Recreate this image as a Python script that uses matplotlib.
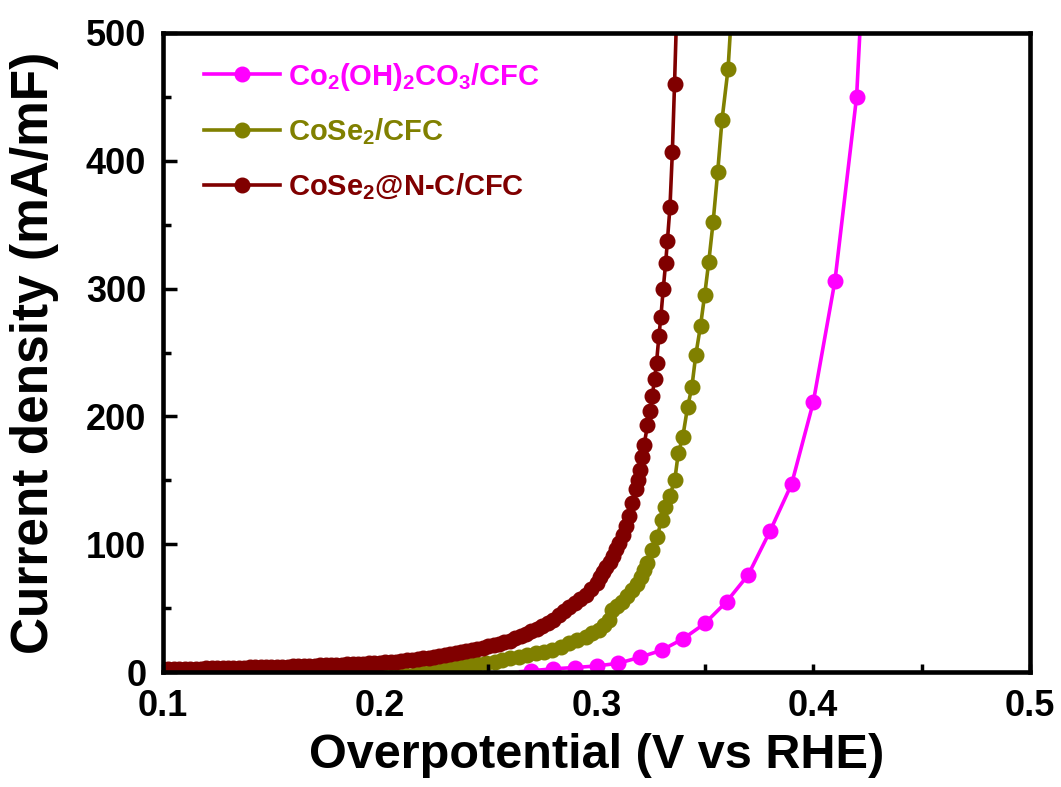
import matplotlib
matplotlib.use("Agg")
import matplotlib.pyplot as plt
from matplotlib.ticker import MultipleLocator

plt.rcParams['font.family'] = ['Liberation Sans', 'DejaVu Sans']
plt.rcParams['font.weight'] = 'bold'
plt.rcParams['mathtext.default'] = 'regular'

# Co2(OH)2CO3/CFC
v_pink = [0.265, 0.27, 0.28, 0.29, 0.30, 0.31, 0.32, 0.33, 0.34, 0.35,
          0.36, 0.37, 0.38, 0.39, 0.40, 0.41, 0.42, 0.4215]
j_pink = [0.3, 1.0, 2.5, 3.5, 4.7, 6.8, 11.5, 17, 26, 38,
          55, 76, 110, 147, 211, 306, 450, 500]

# CoSe2/CFC
v_olive = [0.100, 0.120, 0.140, 0.160, 0.180, 0.200, 0.210, 0.218, 0.224, 0.230,
           0.2336, 0.2375, 0.2413, 0.245, 0.249, 0.253, 0.2566, 0.260, 0.2643, 0.268,
           0.272, 0.276, 0.2797, 0.2835, 0.2873, 0.291, 0.295, 0.298, 0.3011, 0.3035,
           0.3058, 0.3073, 0.3095, 0.3119, 0.3142, 0.3165, 0.3185, 0.3203, 0.3220, 0.3235,
           0.3257, 0.328, 0.3300, 0.3315, 0.3338, 0.3361, 0.3377, 0.3398, 0.342, 0.344,
           0.3458, 0.348, 0.3499, 0.3518, 0.3538, 0.3559, 0.3579, 0.3607, 0.3617]
j_olive = [0.3, 0.4, 0.5, 0.6, 0.8, 1.0, 1.3, 1.6, 2.4, 3.2,
           3.7, 4.6, 5.5, 6.1, 6.8, 8.1, 9.4, 10.6, 12, 13.3,
           14.6, 15.9, 17.2, 19.8, 22.5, 25, 27.6, 30.2, 32.9, 36.8,
           40.7, 48.5, 51.5, 55, 59.5, 64, 69, 74.6, 80, 85,
           95.5, 106, 119, 129, 138, 150, 171, 184, 207, 223,
           248, 271, 295, 321, 352, 391, 432, 472, 500]

# CoSe2@N-C/CFC
v_red = [0.1000, 0.1025, 0.1050, 0.1075, 0.1100, 0.1125, 0.1150, 0.1175, 0.1200, 0.1225,
         0.1250, 0.1275, 0.1300, 0.1325, 0.1350, 0.1375, 0.1400, 0.1425, 0.1450, 0.1475,
         0.1500, 0.1525, 0.1550, 0.1575, 0.1600, 0.1625, 0.1650, 0.1675, 0.1700, 0.1725,
         0.1750, 0.1775, 0.1800, 0.1825, 0.1850, 0.1875, 0.1900, 0.1925, 0.1950, 0.1975,
         0.2000, 0.2025, 0.2050, 0.2075, 0.2100, 0.2125, 0.2150, 0.2175, 0.2200, 0.2225,
         0.2250, 0.2275, 0.2300, 0.2325, 0.2350, 0.2375, 0.2400, 0.2425, 0.2450, 0.2475,
         0.2500, 0.2525, 0.2550, 0.2575, 0.2600, 0.2625, 0.2650, 0.2675, 0.2700, 0.2725,
         0.2750, 0.2775, 0.2800, 0.2825, 0.2850, 0.2875, 0.2900, 0.2925, 0.2950, 0.2975,
         0.3000, 0.3015, 0.3030, 0.3045, 0.3060, 0.3075, 0.3090, 0.3105, 0.3120, 0.3135,
         0.3150, 0.3165, 0.3180, 0.3190, 0.3200, 0.3210, 0.3220, 0.3235, 0.3249, 0.3257,
         0.3268, 0.3277, 0.3288, 0.3297, 0.3308, 0.3319, 0.3327, 0.3339, 0.3350, 0.3360,
         0.3367]
j_red = [2.0, 2.1, 2.2, 2.3, 2.4, 2.5, 2.6, 2.7, 2.8, 2.9,
         3.0, 3.1, 3.2, 3.3, 3.4, 3.5, 3.6, 3.7, 3.8, 3.9,
         4.0, 4.1, 4.2, 4.3, 4.4, 4.55, 4.7, 4.85, 5.0, 5.15,
         5.3, 5.45, 5.6, 5.8, 6.0, 6.2, 6.4, 6.6, 6.8, 7.0,
         7.2, 7.5, 7.8, 8.1, 8.6, 9.1, 9.6, 10.1, 10.7, 11.3,
         12.0, 12.7, 13.3, 14.0, 14.8, 15.6, 16.5, 17.3, 18.1, 19.0,
         20.0, 21.0, 22.0, 23.2, 24.6, 26.3, 28.0, 29.8, 31.8, 33.9,
         36.0, 38.4, 41.0, 44.5, 48.0, 51.0, 54.0, 57.0, 60.5, 65.0,
         70.0, 74, 78, 82, 86, 91, 96, 101, 107, 114,
         122, 132, 143, 150, 158, 168, 178, 193, 204, 216,
         229, 242, 263, 278, 300, 320, 337, 364, 407, 460,
         500]

series = [
    (v_pink, j_pink, '#FF00FF', r'Co$_2$(OH)$_2$CO$_3$/CFC', 2),
    (v_olive, j_olive, '#808000', r'CoSe$_2$/CFC', 1),
    (v_red, j_red, '#800000', r'CoSe$_2$@N-C/CFC', 3),
]

fig = plt.figure(figsize=(10.61, 7.87), dpi=100)
ax = fig.add_axes([163 / 1061, 1 - 672 / 787, (1030 - 163) / 1061, (672 - 33) / 787])

for v, j, c, lab, z in series:
    n = len(v)
    first = 1 if c == '#FF00FF' else 0
    ax.plot(v, j, '-o', color=c, lw=2.6, ms=10.5, label=lab, zorder=z,
            markevery=list(range(first, n - 1)))

ax.set_xlim(0.1, 0.5)
ax.set_ylim(0, 500)
ax.xaxis.set_major_locator(MultipleLocator(0.1))
ax.xaxis.set_minor_locator(MultipleLocator(0.05))
ax.yaxis.set_major_locator(MultipleLocator(100))
ax.yaxis.set_minor_locator(MultipleLocator(50))
ax.tick_params(which='both', direction='in', width=2.5, labelsize=26, pad=12)
ax.tick_params(which='major', length=10)
ax.tick_params(which='minor', length=6)
ax.tick_params(axis='x', which='major', length=6)
ax.tick_params(axis='x', which='minor', length=6)
for s in ax.spines.values():
    s.set_linewidth(3.3)
    s.set_zorder(5)
for t in ax.get_xticklabels() + ax.get_yticklabels():
    t.set_fontweight('bold')

ax.set_xlabel('Overpotential (V vs RHE)', fontsize=35, fontweight='bold')
ax.set_ylabel('Current density (mA/mF)', fontsize=37, fontweight='bold')
ax.xaxis.set_label_coords(0.5, -0.095)
ax.yaxis.set_label_coords(-0.12, 0.5)

leg = ax.legend(loc='upper left', bbox_to_anchor=(0.015, 1.0), frameon=False,
                fontsize=21, handlelength=2.6, handletextpad=0.3,
                labelspacing=0.82, borderaxespad=0.55, labelcolor='linecolor')
for t in leg.get_texts():
    t.set_fontweight('bold')

fig.savefig('out.png', dpi=100)
